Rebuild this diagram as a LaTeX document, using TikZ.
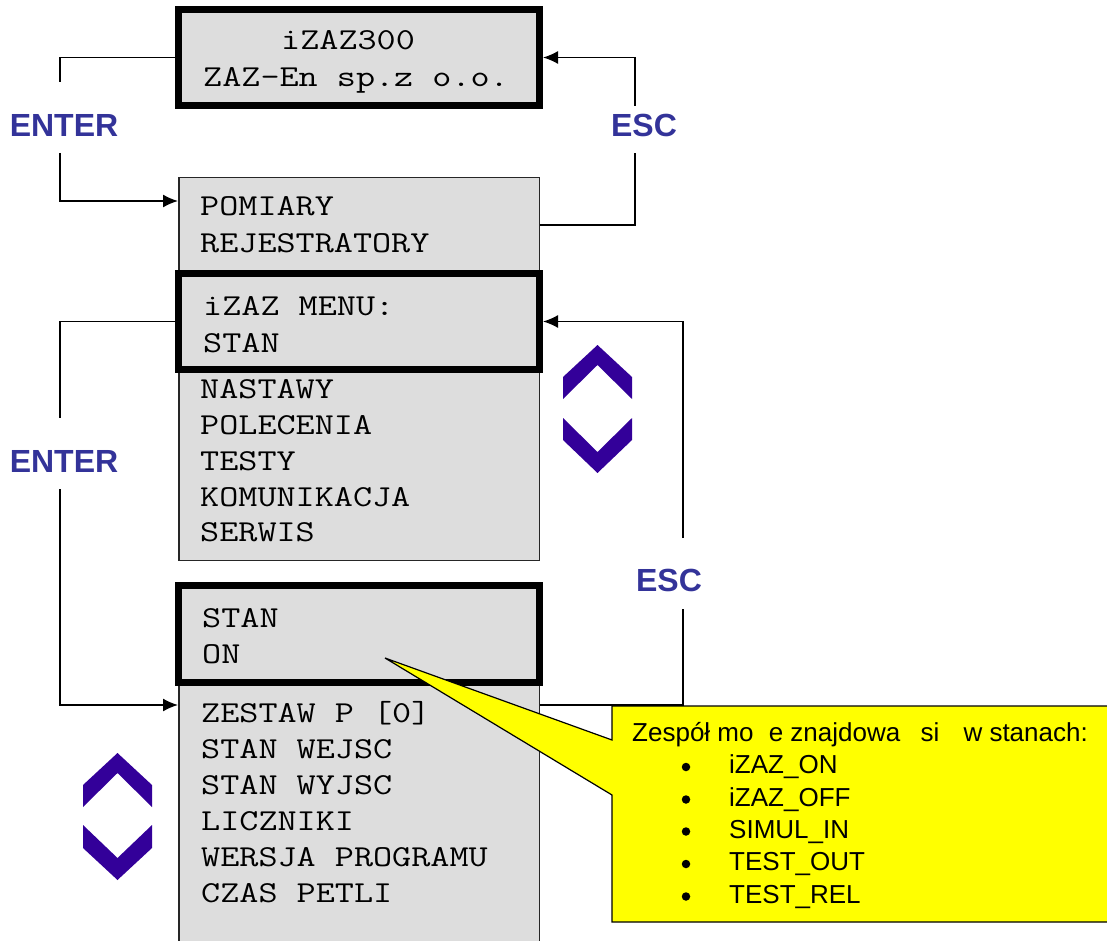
\documentclass[tikz,border=0pt]{standalone}
\usepackage{fontspec}
\setmainfont{Liberation Sans}
\usetikzlibrary{arrows.meta}
\definecolor{boxgray}{HTML}{DDDDDD}
\definecolor{keyblue}{HTML}{333399}
\definecolor{chev}{HTML}{330099}
\definecolor{note}{HTML}{FFFF00}
\newcommand{\lcdt}[1]{\scalebox{1.17}[0.96]{#1}}
\begin{document}
\begin{tikzpicture}[x=1pt,y=-1pt,
  thinbox/.style={draw=black!85, line width=1.5pt, fill=boxgray, inner sep=0pt},
  thickbox/.style={draw=black, line width=7pt, fill=boxgray, minimum width=361pt, minimum height=96pt, inner sep=0pt},
  lcdtext/.style={anchor=base west, inner sep=0pt, font=\ttfamily\fontsize{31.7}{36}\selectfont},
  key/.style={font=\bfseries\fontsize{32}{36}\selectfont, text=keyblue, inner sep=0pt},
  conn/.style={line width=1.6pt, draw=black},
  arr/.style={conn, -{Latex[length=15pt,width=13pt]}},
  chevron/.style={fill=chev, draw=none},
  notetext/.style={anchor=base west, inner sep=0pt, font=\fontsize{26}{30}\selectfont},
  dot/.style={circle, fill=black, inner sep=0pt, minimum size=8.5pt}
]
\useasboundingbox (0,0) rectangle (1107,941);
\clip (0,0) rectangle (1107,941);

% menu list boxes
\node[thinbox, minimum width=360.5pt, minimum height=382.5pt] (list1) at (359,369) {};
\node[thinbox, minimum width=360.5pt, minimum height=377pt] (list2) at (359,771.5) {};
% highlighted display boxes
\node[thickbox] (top) at (359,57.5) {};
\node[thickbox] (menu) at (359,321.5) {};
\node[thickbox, minimum height=97pt] (stan) at (359,634) {};

% display texts
\node[lcdtext] (t0a) at (281,50) {\lcdt{iZAZ300}};
\node[lcdtext] (t0b) at (203,87) {\lcdt{ZAZ-En sp.z o.o.}};
\node[lcdtext] (t1) at (200,216) {\lcdt{POMIARY}};
\node[lcdtext] (t2) at (200,252) {\lcdt{REJESTRATORY}};
\node[lcdtext] (t3) at (203,315) {\lcdt{iZAZ MENU:}};
\node[lcdtext] (t4) at (203,352) {\lcdt{STAN}};
\node[lcdtext] (t5) at (200,398) {\lcdt{NASTAWY}};
\node[lcdtext] (t6) at (200,434) {\lcdt{POLECENIA}};
\node[lcdtext] (t7) at (200,470) {\lcdt{TESTY}};
\node[lcdtext] (t8) at (200,506) {\lcdt{KOMUNIKACJA}};
\node[lcdtext] (t9) at (200,541) {\lcdt{SERWIS}};
\node[lcdtext] (u1) at (202,627) {\lcdt{STAN}};
\node[lcdtext] (u2) at (202,663) {\lcdt{ON}};
\node[lcdtext] (u3) at (201,722) {\lcdt{ZESTAW P [0]}};
\node[lcdtext] (u4) at (201,758) {\lcdt{STAN WEJSC}};
\node[lcdtext] (u5) at (201,794) {\lcdt{STAN WYJSC}};
\node[lcdtext] (u6) at (201,830) {\lcdt{LICZNIKI}};
\node[lcdtext] (u7) at (201,866) {\lcdt{WERSJA PROGRAMU}};
\node[lcdtext] (u8) at (201,902) {\lcdt{CZAS PETLI}};

% key labels
\node[key] (enter1) at (64,125) {ENTER};
\node[key] (esc1) at (644,125) {ESC};
\node[key] (enter2) at (64,461) {ENTER};
\node[key] (esc2) at (669,580) {ESC};

% connector corner points
\coordinate (e1a) at (60,82);  \coordinate (e1b) at (60,153);  \coordinate (e1c) at (60,201);
\coordinate (s1a) at (635,106); \coordinate (s1b) at (635,153); \coordinate (s1c) at (635,225);
\coordinate (e2a) at (60,418); \coordinate (e2b) at (60,489); \coordinate (e2c) at (60,705);
\coordinate (s2a) at (683,538); \coordinate (s2b) at (683,609); \coordinate (s2c) at (683,705);

\draw[conn] (top.west) -| (e1a);
\draw[arr] (e1b) -- (e1c) -- (list1.west |- e1c);
\draw[conn] (list1.east |- s1c) -- (s1c) -- (s1b);
\draw[arr] (s1a) |- (top.east);
\draw[conn] (menu.west) -| (e2a);
\draw[arr] (e2b) -- (e2c) -- (list2.west |- e2c);
\draw[conn] (list2.east |- s2c) -- (s2c) -- (s2b);
\draw[arr] (s2a) |- (menu.east);

% scroll chevrons
\fill[chevron] (563,377) -- (597.5,345) -- (632,377) -- (632,399) -- (597.5,365) -- (563,399) -- cycle;
\fill[chevron] (563,418) -- (597.5,452) -- (632,418) -- (632,440) -- (597.5,473) -- (563,440) -- cycle;
\fill[chevron] (83,785) -- (117.5,753) -- (152,785) -- (152,807) -- (117.5,773) -- (83,807) -- cycle;
\fill[chevron] (83,825) -- (117.5,858) -- (152,825) -- (152,848) -- (117.5,880) -- (83,848) -- cycle;

% callout
\filldraw[fill=note, draw=black, line width=1.2pt] (612,706) -- (1125,706) -- (1125,922) -- (612,922) -- (612,795) -- (385,658) -- (612,740) -- cycle;
\node[notetext] (nh) at (632,741) {Zespół mo\hspace{8pt} e znajdowa\hspace{13pt} si\hspace{17pt} w stanach:};
\node[dot] (b1) at (686,767) {};
\node[dot] (b2) at (686,799.5) {};
\node[dot] (b3) at (686,831.5) {};
\node[dot] (b4) at (686,864) {};
\node[dot] (b5) at (686,896.5) {};
\node[notetext] (n1) at (729,773.5) {iZAZ\_ON};
\node[notetext] (n2) at (729,806) {iZAZ\_OFF};
\node[notetext] (n3) at (729,838) {SIMUL\_IN};
\node[notetext] (n4) at (729,870.5) {TEST\_OUT};
\node[notetext] (n5) at (729,903) {TEST\_REL};
\end{tikzpicture}
\end{document}
